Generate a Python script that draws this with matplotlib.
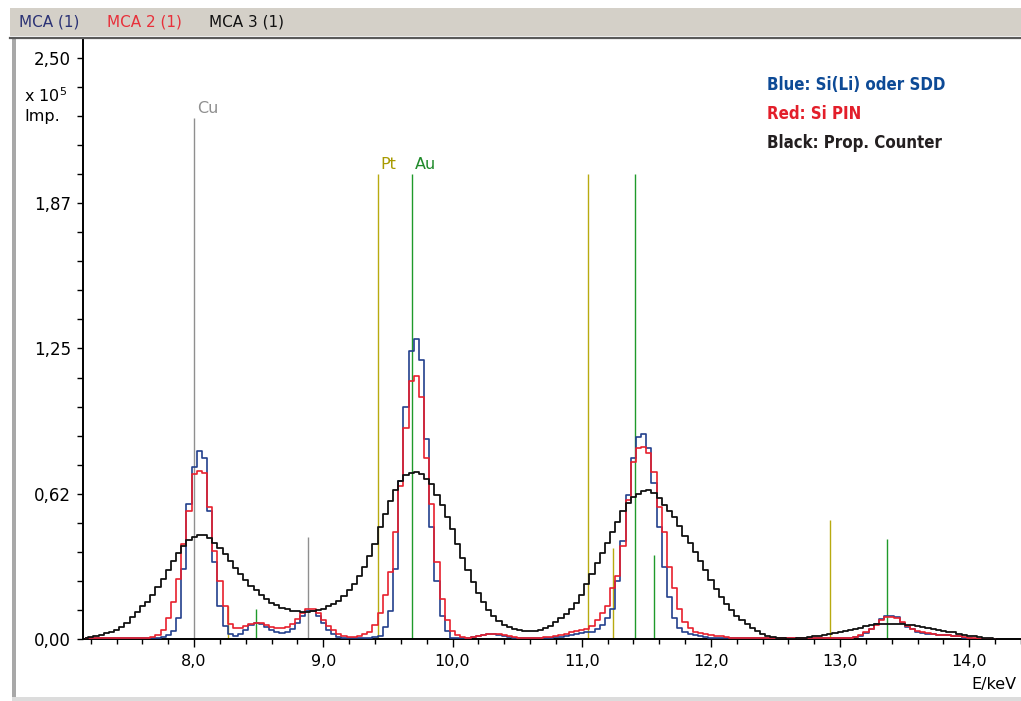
import numpy as np
import matplotlib
matplotlib.use("Agg")
import matplotlib.pyplot as plt
from matplotlib import font_manager
from matplotlib.patches import Rectangle
from matplotlib.lines import Line2D

# Spektren (Impulse in 1000), Kanalbreite 0.04 keV ab 7.16 keV
e_start = 7.16
e_step = 0.04

blue_counts = [
    0.3, 0.3, 0.3, 0.3, 0.3, 0.3, 0.3, 0.3, 0.3, 0.3,
    0.3, 0.3, 0.4, 0.5, 0.6, 1.0, 1.6, 3.5, 9.0, 30.0,
    58.0, 74.0, 81.0, 78.0, 55.0, 33.0, 14.0, 5.5, 2.0, 1.2,
    2.2, 4.0, 6.0, 7.0, 6.6, 5.2, 4.0, 3.0, 2.6, 3.0,
    4.5, 7.0, 10.0, 12.2, 12.2, 10.0, 7.0, 4.0, 2.0, 0.8,
    0.4, 0.3, 0.3, 0.3, 0.4, 0.6, 0.8, 1.5, 5.0, 12.0,
    30.0, 68.0, 100.0, 124.0, 129.0, 120.0, 86.0, 48.0, 25.0, 10.0,
    3.4, 0.6, 0.4, 0.4, 0.6, 1.0, 1.5, 1.9, 2.1, 2.1,
    1.9, 1.5, 1.0, 0.6, 0.4, 0.3, 0.3, 0.3, 0.4, 0.5,
    0.6, 0.8, 1.0, 1.3, 1.7, 2.1, 2.5, 2.8, 3.2, 4.2,
    6.0, 9.0, 13.0, 25.0, 42.0, 62.0, 78.0, 87.0, 88.0, 82.0,
    67.0, 48.0, 31.0, 18.0, 9.0, 4.7, 3.2, 2.3, 1.7, 1.2,
    0.9, 0.6, 0.4, 0.3, 0.3, 0.3, 0.3, 0.3, 0.3, 0.3,
    0.3, 0.3, 0.3, 0.3, 0.3, 0.3, 0.3, 0.3, 0.3, 0.3,
    0.3, 0.3, 0.3, 0.3, 0.3, 0.3, 0.3, 0.3, 0.4, 0.8,
    1.5, 2.6, 4.5, 6.4, 8.8, 9.9, 9.9, 9.5, 7.0, 5.2,
    4.3, 3.2, 2.5, 2.1, 2.0, 1.9, 1.8, 1.7, 1.5, 1.2,
    0.6, 0.3, 0.2, 0.2, 0.2, 0.2, 0.2]

red_counts = [
    0.3, 0.3, 0.3, 0.3, 0.3, 0.3, 0.3, 0.3, 0.3, 0.3,
    0.3, 0.4, 0.5, 0.8, 1.6, 4.0, 9.0, 16.0, 26.0, 41.0,
    55.0, 71.0, 72.5, 71.5, 57.0, 38.0, 25.0, 14.0, 6.4, 4.8,
    4.8, 5.5, 6.5, 7.0, 6.8, 6.0, 5.3, 4.8, 4.7, 5.2,
    6.5, 8.5, 11.0, 12.8, 12.8, 11.0, 8.0, 5.5, 3.8, 2.0,
    1.2, 0.9, 0.9, 1.3, 2.0, 2.8, 6.0, 11.0, 19.0, 29.0,
    46.0, 66.0, 91.0, 111.0, 113.0, 104.0, 78.0, 58.0, 33.0, 17.0,
    8.0, 3.5, 1.8, 0.8, 0.6, 0.9, 1.4, 1.8, 2.1, 2.2,
    2.0, 1.6, 1.1, 0.7, 0.5, 0.4, 0.4, 0.5, 0.6, 0.8,
    1.0, 1.3, 1.7, 2.2, 2.8, 3.4, 4.0, 4.5, 5.5, 8.0,
    11.0, 14.0, 22.0, 27.0, 40.0, 60.0, 76.0, 82.0, 82.5, 80.0,
    72.0, 57.0, 46.0, 31.0, 22.0, 13.0, 7.5, 4.6, 3.2, 2.6,
    2.1, 1.7, 1.4, 1.2, 0.9, 0.6, 0.4, 0.3, 0.3, 0.3,
    0.3, 0.3, 0.3, 0.3, 0.3, 0.3, 0.3, 0.3, 0.3, 0.3,
    0.3, 0.3, 0.3, 0.3, 0.3, 0.3, 0.3, 0.3, 0.5, 1.0,
    1.8, 2.8, 4.3, 6.2, 8.3, 9.3, 9.5, 9.0, 7.2, 5.6,
    4.3, 3.4, 2.8, 2.4, 2.1, 1.9, 1.7, 1.6, 1.4, 1.1,
    0.7, 0.4, 0.3, 0.2, 0.2, 0.2, 0.2]

black_counts = [
    0.6, 0.9, 1.3, 1.8, 2.5, 3.2, 4.0, 5.2, 7.0, 9.5,
    11.5, 14.0, 16.0, 19.0, 22.5, 26.0, 29.5, 33.5, 37.0, 40.0,
    42.5, 44.0, 44.8, 44.8, 43.5, 41.5, 39.0, 36.5, 33.5, 30.5,
    28.0, 25.5, 23.0, 21.0, 19.0, 17.0, 15.5, 14.5, 13.5, 12.8,
    12.2, 12.0, 11.8, 11.8, 12.0, 12.3, 13.0, 14.0, 15.0, 16.5,
    18.5, 21.0, 23.5, 27.0, 31.0, 35.5, 41.0, 48.0, 54.0, 59.5,
    64.0, 68.0, 70.5, 71.5, 72.0, 71.0, 69.0, 66.5, 62.0, 57.5,
    52.5, 47.5, 41.0, 35.0, 29.5, 24.5, 20.0, 16.0, 12.5, 10.0,
    7.8, 6.2, 5.2, 4.4, 3.8, 3.4, 3.3, 3.4, 3.8, 4.6,
    5.8, 7.4, 9.0, 10.8, 12.8, 15.5, 19.0, 23.5, 28.0, 32.5,
    37.0, 41.5, 46.0, 50.5, 55.0, 58.5, 61.0, 62.5, 63.8, 64.0,
    63.0, 60.5, 57.5, 55.0, 52.5, 48.5, 44.5, 41.5, 37.5, 33.5,
    29.5, 25.5, 21.5, 18.0, 15.0, 12.5, 10.0, 8.2, 6.5, 4.8,
    3.4, 2.3, 1.4, 0.8, 0.5, 0.3, 0.2, 0.2, 0.3, 0.5,
    0.8, 1.1, 1.4, 1.8, 2.1, 2.5, 3.0, 3.5, 4.0, 4.4,
    4.9, 5.4, 5.9, 6.4, 6.6, 6.6, 6.6, 6.5, 6.3, 6.1,
    5.9, 5.6, 5.2, 4.8, 4.4, 4.0, 3.6, 3.2, 2.8, 2.3,
    1.9, 1.5, 1.2, 0.9, 0.6, 0.4, 0.2]

# Elementlinien: Energie (keV), Hoehe (x 10^5 Imp.)
cu_lines = [8.00, 8.88]
cu_heights = [2.24, 0.44]
pt_lines = [8.26, 9.42, 11.05, 11.24, 12.92]
pt_heights = [0.14, 2.00, 2.00, 0.39, 0.51]
au_lines = [8.48, 9.69, 11.41, 11.56, 13.36]
au_heights = [0.13, 2.00, 2.00, 0.36, 0.43]

y_ticks = [0, 0.625, 1.25, 1.875, 2.5]
y_labels = ["0,00", "0,62", "1,25", "1,87", "2,50"]
x_ticks = [8, 9, 10, 11, 12, 13, 14]
x_labels = ["8,0", "9,0", "10,0", "11,0", "12,0", "13,0", "14,0"]

notes = ["Blue: Si(Li) oder SDD", "Red: Si PIN", "Black: Prop. Counter"]
note_colors = ["#0d4a96", "#e31e2a", "#231f20"]

W, H = 1021, 701
fig = plt.figure(figsize=(W / 100, H / 100), dpi=100)
fig.patch.set_facecolor("white")


def fx(x):
    return x / W


def fy(y):
    return 1 - y / H


# Fensterrahmen
fig.add_artist(Rectangle((fx(10), fy(36)), 1, 28 / H, transform=fig.transFigure,
                         facecolor="#d4d0c8", edgecolor="none"))
fig.add_artist(Line2D([fx(10), 1], [fy(37.5), fy(37.5)], transform=fig.transFigure,
                      color="#5a5a5a", lw=1.6))
fig.add_artist(Rectangle((fx(12), fy(697)), 4 / W, 659 / H, transform=fig.transFigure,
                         facecolor="#a8a8a8", edgecolor="none"))
fig.add_artist(Rectangle((fx(12), 0), 1, 4 / H, transform=fig.transFigure,
                         facecolor="#dcdcdc", edgecolor="none"))

fig.text(fx(19), fy(22), "MCA (1)", color="#2b3275", fontsize=11, va="center")
fig.text(fx(107), fy(22), "MCA 2 (1)", color="#e8303a", fontsize=11, va="center")
fig.text(fx(209), fy(22), "MCA 3 (1)", color="#111111", fontsize=11, va="center")

ax = fig.add_axes([fx(83), (H - 639) / H, (W - 83) / W, (639 - 38) / H])
ax.set_xlim(7.14, 14.40)
ax.set_ylim(0, (639 - 38) / 232.4)

energy = e_start + e_step * np.arange(len(black_counts))

ax.vlines(cu_lines, 0, cu_heights, colors="#8f8f8f", lw=1.0, zorder=1)
ax.vlines(pt_lines, 0, pt_heights, colors="#b8aa10", lw=1.0, zorder=1)
ax.vlines(au_lines, 0, au_heights, colors="#1f9a2a", lw=1.0, zorder=1)

ax.text(cu_lines[0] + 0.02, cu_heights[0] + 0.01, "Cu", color="#8f8f8f", fontsize=11.5,
        ha="left", va="bottom")
ax.text(pt_lines[1] + 0.02, pt_heights[1] + 0.01, "Pt", color="#a89a00", fontsize=11.5,
        ha="left", va="bottom")
ax.text(au_lines[1] + 0.02, au_heights[1] + 0.01, "Au", color="#1f8a2a", fontsize=11.5,
        ha="left", va="bottom")

ax.step(energy, np.array(blue_counts) / 100, where="mid", color="#22408c", lw=1.2, zorder=3)
ax.step(energy, np.array(red_counts) / 100, where="mid", color="#e8202e", lw=1.2, zorder=3)
ax.step(energy, np.array(black_counts) / 100, where="mid", color="#111111", lw=1.3, zorder=4)

for s in ["top", "right"]:
    ax.spines[s].set_visible(False)
for s in ["left", "bottom"]:
    ax.spines[s].set_linewidth(1.4)

ax.set_yticks(y_ticks)
ax.set_yticklabels(y_labels)
ax.set_yticks(np.arange(0, 2.6, 0.125), minor=True)
ax.set_xticks(x_ticks)
ax.set_xticklabels(x_labels)
ax.set_xticks(np.arange(7.2, 14.41, 0.2), minor=True)
ax.tick_params(axis="y", which="both", length=4.5, width=1, labelsize=12, pad=4)
ax.tick_params(axis="x", which="major", length=5.5, width=1, labelsize=11.5, pad=5)
ax.tick_params(axis="x", which="minor", length=3.5, width=1)

fig.text(fx(24), fy(96), r"x 10$^5$", fontsize=11.5, va="center", ha="left")
fig.text(fx(24), fy(116), "Imp.", fontsize=11.5, va="center", ha="left")
fig.text(fx(1016), fy(685), "E/keV", fontsize=11.5, va="center", ha="right")

# schmale fette Schrift fuer die Legende suchen
note_prop = None
for f in font_manager.fontManager.ttflist:
    narrow = ("Narrow" in f.name or "Condensed" in f.name
              or f.stretch in ("condensed", "semi-condensed", "extra-condensed"))
    if narrow and f.weight in ("bold", 700, "heavy"):
        note_prop = font_manager.FontProperties(fname=f.fname)
        break
if note_prop is None:
    note_prop = font_manager.FontProperties(family="Roboto", weight="bold")

note_texts = []
for i, (s, c) in enumerate(zip(notes, note_colors)):
    t = fig.text(fx(767), fy(85 + 29 * i), s, color=c, fontproperties=note_prop,
                 va="center")
    t.set_fontsize(15.5)
    note_texts.append(t)

# Schriftgroesse an die Breite der Vorlage anpassen (ca. 178 px)
fig.canvas.draw()
r = fig.canvas.get_renderer()
w0 = note_texts[0].get_window_extent(r).width
scale = 178 / w0
for t in note_texts:
    t.set_fontsize(15.5 * scale)

fig.savefig("out.png", dpi=100)
